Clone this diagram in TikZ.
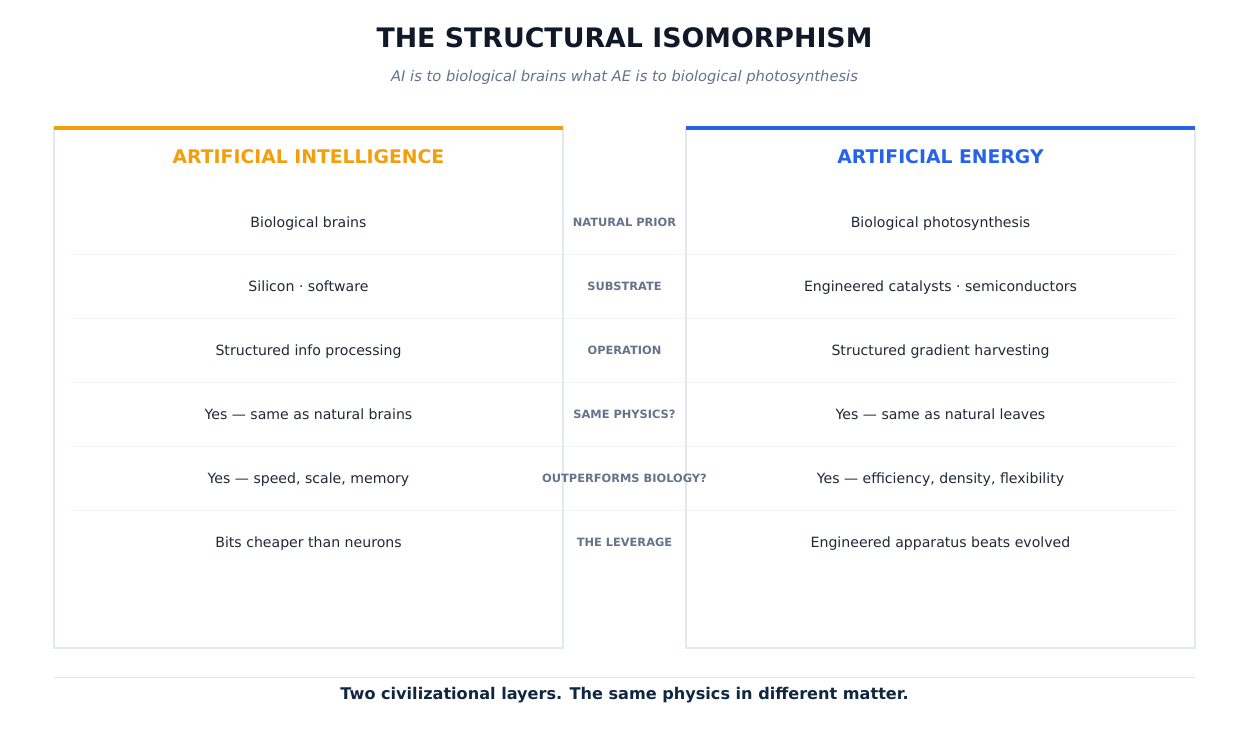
\documentclass[tikz,border=0pt]{standalone}
\usepackage{fontspec}
\setmainfont{DejaVu Sans}
\definecolor{ttl}{HTML}{111827}
\definecolor{sub}{HTML}{64748B}
\definecolor{org}{HTML}{F59E0B}
\definecolor{blu}{HTML}{2563EB}
\definecolor{brd}{HTML}{E2E8F0}
\definecolor{sep}{HTML}{F1F5F9}
\definecolor{txt}{HTML}{1F2937}
\definecolor{lab}{HTML}{64748B}
\definecolor{foot}{HTML}{0F2740}
\begin{document}
\begin{tikzpicture}[x=1pt,y=-1pt,
  cell/.style={font=\fontsize{14.1}{16}\selectfont,text=txt,text height=10.5pt,text depth=3pt},
  lbl/.style={font=\fontsize{11.4}{13}\selectfont\bfseries,text=lab,text height=8.5pt,text depth=2.4pt},
  head/.style={font=\fontsize{18.8}{22}\selectfont\bfseries}]
\useasboundingbox[fill=white] (0,0) rectangle (1249,729);
\foreach \y in {254,318,382,446,510} \draw[sep,line width=0.8pt] (70,\y) -- (1178,\y);
\draw[brd,line width=1.2pt] (54,128) rectangle (563,648);
\draw[brd,line width=1.2pt] (686,128) rectangle (1195,648);
\draw[org,line width=3.5pt] (54,128) -- (563,128);
\draw[blu,line width=3.5pt] (686,128) -- (1195,128);
\node[font=\fontsize{26.8}{30}\selectfont\bfseries,text=ttl] (title) at (624.5,38) {THE STRUCTURAL ISOMORPHISM};
\node[font=\fontsize{14.7}{17}\selectfont\itshape,text=sub] (subt) at (624.5,77) {AI is to biological brains what AE is to biological photosynthesis};
\node[head,text=org] (hl) at (308.5,157) {ARTIFICIAL INTELLIGENCE};
\node[head,text=blu] (hr) at (940.5,157) {ARTIFICIAL ENERGY};
\foreach \i/\a/\m/\b in {0/Biological brains/NATURAL PRIOR/Biological photosynthesis,
  1/Silicon · software/SUBSTRATE/Engineered catalysts · semiconductors,
  2/Structured info processing/OPERATION/Structured gradient harvesting,
  3/Yes — same as natural brains/SAME PHYSICS?/Yes — same as natural leaves,
  4/{Yes — speed, scale, memory}/OUTPERFORMS BIOLOGY?/{Yes — efficiency, density, flexibility},
  5/Bits cheaper than neurons/THE LEVERAGE/Engineered apparatus beats evolved}{
  \node[cell] (l\i) at (308.5,224+64*\i) {\a};
  \node[lbl] (m\i) at (624.5,223+64*\i) {\m};
  \node[cell] (r\i) at (940.5,224+64*\i) {\b};
}
\draw[brd,line width=0.8pt] (54,677) -- (1195,677);
\node[font=\fontsize{16.1}{19}\selectfont\bfseries,text=foot] (ft) at (624.5,695) {Two civilizational layers. The same physics in different matter.};
\end{tikzpicture}
\end{document}
